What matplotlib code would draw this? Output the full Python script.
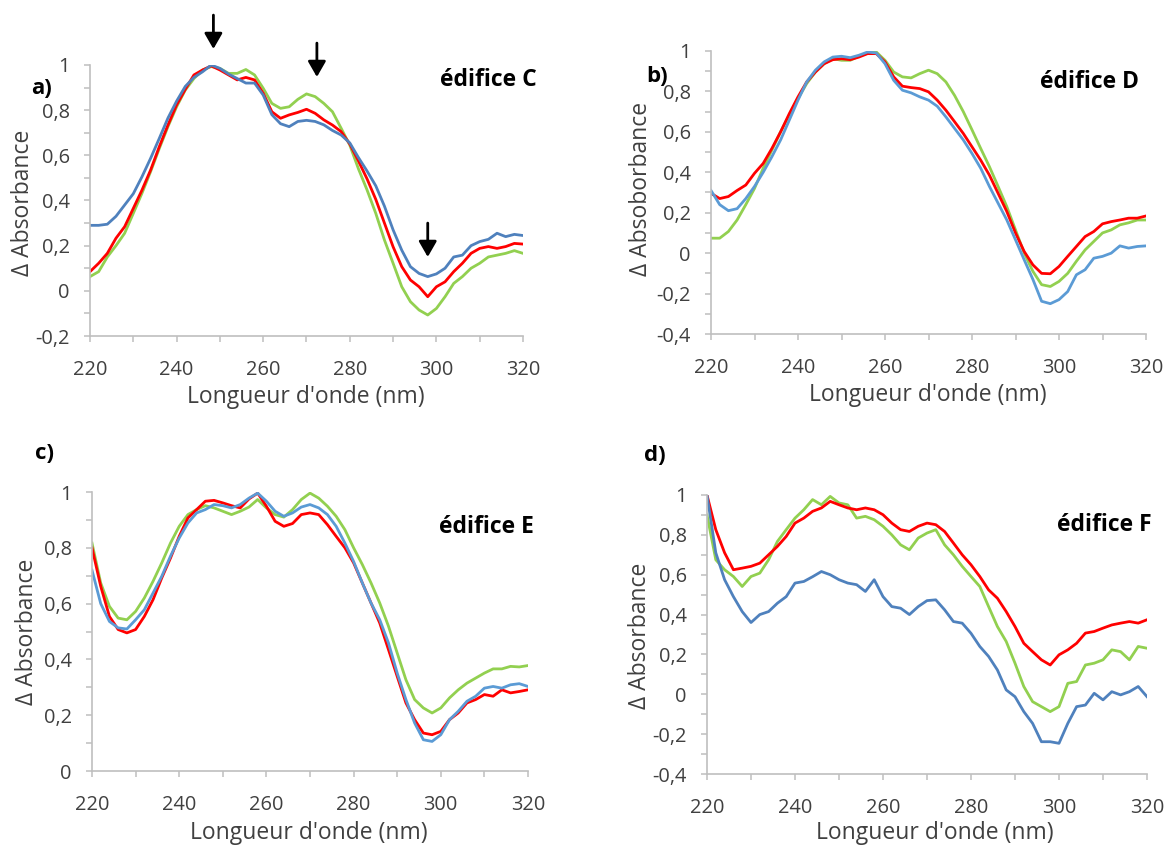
import matplotlib
matplotlib.use("Agg")
import matplotlib.pyplot as plt
from matplotlib.ticker import MultipleLocator, FuncFormatter

plt.rcParams['font.family'] = ['Open Sans', 'DejaVu Sans']

# wavelengths (nm), every 2 nm
wl = list(range(220, 322, 2))

# a) edifice C
a_blue = [0.29, 0.29, 0.295, 0.33, 0.38, 0.43, 0.505, 0.587, 0.675, 0.765,
          0.84, 0.905, 0.945, 0.97, 1.0, 0.985, 0.96, 0.94, 0.92, 0.92,
          0.867, 0.78, 0.74, 0.727, 0.75, 0.755, 0.75, 0.735, 0.71, 0.69,
          0.655, 0.59, 0.53, 0.465, 0.375, 0.27, 0.18, 0.107, 0.077, 0.063,
          0.075, 0.1, 0.15, 0.158, 0.2, 0.218, 0.228, 0.255, 0.24, 0.25, 0.245]
a_red = [0.085, 0.122, 0.166, 0.233, 0.284, 0.365, 0.446, 0.535, 0.638, 0.734,
         0.823, 0.892, 0.956, 0.978, 0.996, 0.978, 0.956, 0.934, 0.945, 0.934,
         0.875, 0.793, 0.764, 0.779, 0.79, 0.804, 0.786, 0.757, 0.734, 0.705,
         0.65, 0.575, 0.495, 0.405, 0.3, 0.195, 0.107, 0.048, 0.018, -0.026,
         0.018, 0.04, 0.085, 0.122, 0.166, 0.188, 0.196, 0.188, 0.196, 0.21, 0.207]
a_green = [0.063, 0.085, 0.15, 0.2, 0.255, 0.343, 0.432, 0.528, 0.63, 0.727,
           0.815, 0.889, 0.94, 0.978, 0.993, 0.985, 0.963, 0.963, 0.98, 0.956,
           0.897, 0.83, 0.808, 0.815, 0.848, 0.872, 0.86, 0.83, 0.793, 0.72,
           0.645, 0.54, 0.446, 0.343, 0.225, 0.122, 0.018, -0.048, -0.085, -0.107,
           -0.078, -0.026, 0.033, 0.063, 0.1, 0.122, 0.15, 0.158, 0.166, 0.178, 0.166]

# b) edifice D
b_blue = [0.31, 0.24, 0.21, 0.22, 0.27, 0.33, 0.40, 0.477, 0.56, 0.658,
          0.757, 0.847, 0.905, 0.946, 0.97, 0.974, 0.967, 0.979, 0.995, 0.99,
          0.937, 0.855, 0.806, 0.793, 0.773, 0.757, 0.727, 0.674, 0.617, 0.56,
          0.493, 0.42, 0.33, 0.247, 0.164, 0.066, -0.033, -0.13, -0.238, -0.25,
          -0.23, -0.19, -0.107, -0.082, -0.025, -0.016, 0.0, 0.036, 0.025, 0.033, 0.036]
b_red = [0.296, 0.27, 0.28, 0.31, 0.337, 0.395, 0.444, 0.518, 0.60, 0.69,
         0.773, 0.847, 0.896, 0.937, 0.957, 0.962, 0.957, 0.97, 0.987, 0.987,
         0.946, 0.872, 0.826, 0.819, 0.814, 0.798, 0.757, 0.707, 0.65, 0.592,
         0.526, 0.46, 0.386, 0.296, 0.206, 0.1, 0.008, -0.058, -0.1, -0.102,
         -0.066, -0.016, 0.033, 0.082, 0.107, 0.145, 0.156, 0.164, 0.173, 0.173, 0.184]
b_green = [0.074, 0.074, 0.107, 0.164, 0.24, 0.32, 0.42, 0.51, 0.60, 0.683,
           0.765, 0.839, 0.896, 0.937, 0.962, 0.954, 0.954, 0.974, 0.99, 0.995,
           0.954, 0.896, 0.872, 0.867, 0.888, 0.905, 0.888, 0.847, 0.78, 0.70,
           0.61, 0.518, 0.428, 0.33, 0.23, 0.115, 0.0, -0.09, -0.156, -0.165,
           -0.14, -0.1, -0.04, 0.016, 0.058, 0.1, 0.115, 0.14, 0.15, 0.164, 0.164]

# c) edifice E
c_blue = [0.72, 0.60, 0.536, 0.513, 0.509, 0.542, 0.578, 0.638, 0.698, 0.77,
          0.835, 0.889, 0.925, 0.937, 0.955, 0.951, 0.943, 0.955, 0.978, 0.996,
          0.967, 0.931, 0.913, 0.925, 0.946, 0.955, 0.943, 0.919, 0.877, 0.817,
          0.751, 0.674, 0.602, 0.542, 0.459, 0.351, 0.256, 0.172, 0.112, 0.106,
          0.13, 0.184, 0.214, 0.25, 0.268, 0.297, 0.303, 0.297, 0.309, 0.313, 0.303]
c_red = [0.80, 0.662, 0.554, 0.507, 0.495, 0.507, 0.554, 0.614, 0.692, 0.763,
         0.841, 0.907, 0.937, 0.967, 0.97, 0.961, 0.951, 0.943, 0.975, 0.996,
         0.949, 0.895, 0.877, 0.887, 0.919, 0.925, 0.919, 0.883, 0.841, 0.80,
         0.746, 0.674, 0.602, 0.53, 0.435, 0.339, 0.244, 0.184, 0.136, 0.13,
         0.142, 0.184, 0.208, 0.244, 0.256, 0.274, 0.268, 0.291, 0.28, 0.285, 0.291]
c_green = [0.817, 0.674, 0.59, 0.548, 0.542, 0.572, 0.62, 0.68, 0.746, 0.817,
           0.877, 0.919, 0.937, 0.951, 0.943, 0.931, 0.919, 0.931, 0.946, 0.973,
           0.943, 0.919, 0.91, 0.937, 0.973, 0.996, 0.978, 0.949, 0.913, 0.865,
           0.80, 0.74, 0.674, 0.602, 0.519, 0.423, 0.327, 0.256, 0.226, 0.208,
           0.226, 0.262, 0.291, 0.315, 0.333, 0.351, 0.366, 0.366, 0.375, 0.373, 0.378]

# d) edifice F
d_blue = [1.0, 0.71, 0.575, 0.49, 0.415, 0.36, 0.40, 0.415, 0.457, 0.49,
          0.558, 0.566, 0.59, 0.616, 0.60, 0.575, 0.558, 0.55, 0.516, 0.575,
          0.49, 0.44, 0.432, 0.40, 0.44, 0.47, 0.474, 0.424, 0.365, 0.357,
          0.306, 0.24, 0.19, 0.122, 0.022, -0.012, -0.087, -0.146, -0.238, -0.238,
          -0.246, -0.146, -0.062, -0.054, 0.005, -0.028, 0.013, -0.003, 0.013, 0.039, -0.012]
d_red = [1.0, 0.826, 0.71, 0.625, 0.633, 0.642, 0.658, 0.70, 0.742, 0.792,
         0.859, 0.884, 0.918, 0.935, 0.968, 0.951, 0.935, 0.926, 0.935, 0.926,
         0.901, 0.859, 0.826, 0.817, 0.843, 0.859, 0.851, 0.817, 0.759, 0.70,
         0.65, 0.591, 0.524, 0.482, 0.415, 0.34, 0.256, 0.214, 0.173, 0.147,
         0.198, 0.223, 0.256, 0.307, 0.315, 0.332, 0.348, 0.357, 0.365, 0.357, 0.374]
d_green = [0.90, 0.675, 0.625, 0.591, 0.541, 0.591, 0.608, 0.675, 0.767, 0.826,
           0.884, 0.926, 0.977, 0.951, 0.993, 0.96, 0.951, 0.884, 0.893, 0.876,
           0.843, 0.80, 0.75, 0.725, 0.784, 0.809, 0.826, 0.75, 0.70, 0.642,
           0.591, 0.541, 0.44, 0.34, 0.265, 0.156, 0.039, -0.037, -0.062, -0.087,
           -0.062, 0.055, 0.064, 0.147, 0.156, 0.173, 0.223, 0.214, 0.173, 0.24, 0.231]

panels = [
    dict(blue=a_blue, red=a_red, green=a_green, ylim=(-0.2, 1), tag="a)",
         name="édifice C", ylabel="Δ Absorbance", bluec="#4F81BD"),
    dict(blue=b_blue, red=b_red, green=b_green, ylim=(-0.4, 1), tag="b)",
         name="édifice D", ylabel="Δ Absoborbance", bluec="#5B9BD5"),
    dict(blue=c_blue, red=c_red, green=c_green, ylim=(0, 1), tag="c)",
         name="édifice E", ylabel="Δ Absorbance", bluec="#5B9BD5"),
    dict(blue=d_blue, red=d_red, green=d_green, ylim=(-0.4, 1), tag="d)",
         name="édifice F", ylabel="Δ Absorbance", bluec="#4F81BD"),
]

# pixel layout (left, top, right, bottom) of each plot area
W, H = 1169, 846
boxes = [(90, 65, 523, 336), (711, 51, 1146, 334), (92, 492, 528, 771), (707, 495, 1147, 774)]
tag_pos = [(41, 88), (657, 77), (45, 453), (655, 455)]
name_pos = [(488, 80), (1089, 82), (486, 527), (1104, 525)]
ylab_pos = [(23, 203), (641, 189), (27, 632), (640, 636)]
xlab_pos = [(306, 397), (928, 395), (309, 833), (935, 833)]

# arrows in panel a: wavelength, start and tip
arrow_x = [248.5, 272.4, 298.0]
arrow_top = [1.221, 1.097, 0.30]
arrow_tip = [1.071, 0.947, 0.15]

grey = "#BFBFBF"
txt = "#404040"


def fmt(v, pos):
    s = ("%.1f" % v).rstrip("0").rstrip(".")
    if s == "-0":
        s = "0"
    return s.replace(".", ",")


fig = plt.figure(figsize=(W / 100, H / 100), dpi=100)

for i, p in enumerate(panels):
    l, t, r, b = boxes[i]
    ax = fig.add_axes([l / W, 1 - b / H, (r - l) / W, (b - t) / H])
    ax.plot(wl, p["green"], color="#92D050", lw=2)
    ax.plot(wl, p["red"], color="#FF0000", lw=2)
    ax.plot(wl, p["blue"], color=p["bluec"], lw=2)
    ax.set_xlim(220, 320)
    ax.set_ylim(*p["ylim"])
    ax.xaxis.set_major_locator(MultipleLocator(20))
    ax.xaxis.set_minor_locator(MultipleLocator(10))
    ax.yaxis.set_major_locator(MultipleLocator(0.2))
    ax.yaxis.set_minor_locator(MultipleLocator(0.1))
    ax.yaxis.set_major_formatter(FuncFormatter(fmt))
    for s in ["top", "right"]:
        ax.spines[s].set_visible(False)
    for s in ["left", "bottom"]:
        ax.spines[s].set_color(grey)
        ax.spines[s].set_linewidth(1.2)
    ax.tick_params(which="both", direction="out", length=4.5, width=1.1, color=grey)
    ax.tick_params(axis="y", which="major", labelsize=14.4, labelcolor=txt, pad=10)
    ax.tick_params(axis="x", which="major", labelsize=14.4, labelcolor=txt, pad=13)

    fig.text(tag_pos[i][0] / W, 1 - tag_pos[i][1] / H, p["tag"], fontsize=16,
             fontweight="bold", ha="center", va="center")
    fig.text(name_pos[i][0] / W, 1 - name_pos[i][1] / H, p["name"], fontsize=16.5,
             fontweight="bold", ha="center", va="center")
    fig.text(ylab_pos[i][0] / W, 1 - ylab_pos[i][1] / H, p["ylabel"], fontsize=16.5,
             color=txt, rotation=90, ha="center", va="center")
    fig.text(xlab_pos[i][0] / W, 1 - xlab_pos[i][1] / H, "Longueur d'onde (nm)",
             fontsize=16.5, color=txt, ha="center", va="center")

    if i == 0:
        for ax_x, y0, y1 in zip(arrow_x, arrow_top, arrow_tip):
            ax.annotate("", xy=(ax_x, y1), xytext=(ax_x, y0), annotation_clip=False,
                        arrowprops=dict(arrowstyle="-|>,head_length=0.47,head_width=0.27",
                                        mutation_scale=20, color="black", lw=2,
                                        shrinkA=0, shrinkB=0))

fig.savefig("out.png", dpi=100)
